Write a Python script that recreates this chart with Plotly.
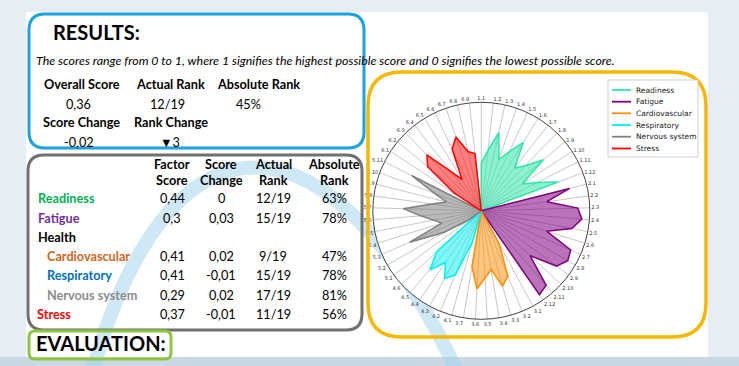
import plotly.graph_objects as go

# ---------------- data ----------------
group_names = ["Readiness", "Fatigue", "Cardiovascular", "Respiratory", "Nervous system", "Stress"]
group_sizes = [12, 12, 7, 6, 11, 9]
readiness = [0.44, 0.56, 0.74, 0.50, 0.60, 0.74, 0.50, 0.58, 0.74, 0.45, 0.58, 0.76]
fatigue = [0.84, 0.61, 0.89, 0.93, 0.85, 0.63, 0.90, 0.92, 0.86, 0.61, 0.91, 0.94]
cardiovascular = [0.35, 0.65, 0.72, 0.55, 0.62, 0.72, 0.52]
respiratory = [0.30, 0.64, 0.71, 0.58, 0.72, 0.56]
nervous_system = [0.15, 0.40, 0.72, 0.38, 0.45, 0.56, 0.72, 0.46, 0.33, 0.46, 0.72]
stress = [0.30, 0.64, 0.72, 0.46, 0.34, 0.63, 0.72, 0.56, 0.53]
spoke_labels = [f"{g + 1}.{i + 1}" for g, n in enumerate(group_sizes) for i in range(n)]

overall_labels = ["Overall Score", "Actual Rank", "Absolute Rank"]
overall_values = ["0,36", "12/19", "45%"]
change_labels = ["Score Change", "Rank Change"]
change_values = ["-0,02", "▼3"]

table_header1 = ["Factor", "Score", "Actual", "Absolute"]
table_header2 = ["Score", "Change", "Rank", "Rank"]
factors = ["Readiness", "Fatigue", "Health", "Cardiovascular", "Respiratory", "Nervous system", "Stress"]
factor_scores = ["0,44", "0,3", "", "0,41", "0,41", "0,29", "0,37"]
score_changes = ["0", "0,03", "", "0,02", "-0,01", "0,02", "-0,01"]
actual_ranks = ["12/19", "15/19", "", "9/19", "15/19", "17/19", "11/19"]
absolute_ranks = ["63%", "78%", "", "47%", "78%", "81%", "56%"]

# ---------------- styles ----------------
W, H = 739, 366
FONT = "Lato"
TS = 12.7
line_colors = ["#2ee6a6", "#800080", "#ff8c00", "#00f0f0", "#808080", "#ff0000"]
fill_colors = ["rgba(46,230,166,0.55)", "rgba(128,0,128,0.55)", "rgba(255,140,0,0.5)",
               "rgba(0,240,240,0.5)", "rgba(128,128,128,0.55)", "rgba(255,0,0,0.5)"]
factor_colors = ["#00b050", "#7030a0", "#000000", "#d0661a", "#0070c0", "#8c8c8c", "#ff0000"]
factor_x = [36, 36, 36, 45, 45, 45, 35]

series = [readiness, fatigue, cardiovascular, respiratory, nervous_system, stress]

fig = go.Figure()

offset = 0
for name, vals, lc, fc in zip(group_names, series, line_colors, fill_colors):
    r = [0.0] * len(spoke_labels)
    for i, v in enumerate(vals):
        r[offset + i] = v
    offset += len(vals)
    fig.add_trace(go.Scatterpolar(
        r=r + [r[0]], theta=spoke_labels + [spoke_labels[0]], mode="lines", fill="toself",
        fillcolor=fc, line=dict(color=lc, width=1.5), name=name, showlegend=False,
        hoverinfo="skip"))

# invisible anchor trace for the pixel-space cartesian axes
fig.add_trace(go.Scatter(x=[None], y=[None], mode="lines", showlegend=False, hoverinfo="skip"))


def rrect(x0, y0, x1, y1, r):
    return (f"M{x0 + r},{y0} L{x1 - r},{y0} Q{x1},{y0} {x1},{y0 + r} L{x1},{y1 - r} "
            f"Q{x1},{y1} {x1 - r},{y1} L{x0 + r},{y1} Q{x0},{y1} {x0},{y1 - r} "
            f"L{x0},{y0 + r} Q{x0},{y0} {x0 + r},{y0} Z")


shapes = [
    dict(type="rect", x0=0, x1=W, y0=357, y1=H, fillcolor="#cad8e3", line_width=0, layer="below"),
    dict(type="rect", x0=26, x1=708, y0=12, y1=357, fillcolor="white", line_width=0, layer="below"),
    dict(type="path", path="M 85,400 C 160,90 335,90 470,400", line=dict(color="rgba(160,210,238,0.5)", width=14),
         layer="below"),
    dict(type="path", path=rrect(29, 14, 364, 148, 16), line=dict(color="#1ba3df", width=3)),
    dict(type="path", path=rrect(28, 155, 362, 330, 16), line=dict(color="#707070", width=3)),
    dict(type="path", path=rrect(29, 331, 171, 359, 6), line=dict(color="#8dc63f", width=3)),
    dict(type="path", path=rrect(368, 72, 706, 337, 34), line=dict(color="#f5b800", width=3.5)),
    # legend box
    dict(type="rect", x0=608, x1=698, y0=80, y1=157, fillcolor="white", line=dict(color="#cfcfcf", width=1)),
]

ann = []


def txt(x, y, s, size=TS, color="black", anchor="center", bold=False, italic=False, family=FONT):
    if bold:
        s = f"<b>{s}</b>"
    if italic:
        s = f"<i>{s}</i>"
    ann.append(dict(x=x, y=y, xref="x", yref="y", text=s, showarrow=False, xanchor=anchor,
                    yanchor="middle", font=dict(family=family, size=size, color=color)))


# legend entries
legend_y = [90, 101.7, 113.3, 125, 136.7, 148.5]
for name, lc, ly in zip(group_names, line_colors, legend_y):
    shapes.append(dict(type="line", x0=612, x1=631, y0=ly, y1=ly, line=dict(color=lc, width=1.8)))
    txt(634, ly, name, size=7.5, color="#222", anchor="left", family="DejaVu Sans")

txt(51, 31.5, "RESULTS:", size=20, anchor="left", bold=True)
txt(34, 60, "The scores range from 0 to 1, where 1 signifies the highest possible score and 0 signifies the lowest possible score.",
    size=12.4, anchor="left", italic=True)
for lab, x in zip(overall_labels, [81.5, 170.5, 258.5]):
    txt(x, 83.5, lab, bold=True)
for v, x in zip(overall_values, [78, 167, 248]):
    txt(x, 104, v)
for lab, x in zip(change_labels, [81.5, 171]):
    txt(x, 122, lab, bold=True)
for v, x in zip(change_values, [79, 170]):
    txt(x, 141.5, v)

col_x = [172, 221, 273, 334]
for h1, h2, x in zip(table_header1, table_header2, col_x):
    txt(x, 163.5, h1, bold=True)
    txt(x, 179.5, h2, bold=True)
row_y = [198, 217.5, 236.5, 256, 275, 294.5, 313.5]
for i, y in enumerate(row_y):
    txt(factor_x[i], y, factors[i], color=factor_colors[i], anchor="left", bold=True)
    for vals, x in zip([factor_scores, score_changes, actual_ranks, absolute_ranks], col_x):
        if vals[i]:
            txt(x, y, vals[i])

txt(34, 343, "EVALUATION:", size=20, anchor="left", bold=True)

cx, cy, rad = 481.3, 210.8, 108.5

fig.update_layout(
    width=W, height=H, margin=dict(l=0, r=0, t=0, b=0),
    paper_bgcolor="#e6edf3", plot_bgcolor="rgba(0,0,0,0)",
    xaxis=dict(range=[0, W], visible=False, fixedrange=True, domain=[0, 1]),
    yaxis=dict(range=[H, 0], visible=False, fixedrange=True, domain=[0, 1]),
    shapes=shapes, annotations=ann,
    polar=dict(
        domain=dict(x=[(cx - rad) / W, (cx + rad) / W], y=[1 - (cy + rad) / H, 1 - (cy - rad) / H]),
        bgcolor="white",
        radialaxis=dict(visible=False, range=[0, 1]),
        angularaxis=dict(type="category", categoryarray=spoke_labels, direction="clockwise", rotation=90,
                         showline=True, linecolor="#444", linewidth=1, gridcolor="#c8c8c8", gridwidth=1,
                         ticks="", tickfont=dict(family="DejaVu Sans", size=5, color="#333")),
    ),
    showlegend=False,
)

fig.write_html("out.html", config={"displayModeBar": False},
               post_script="document.body.style.margin='0px';")
